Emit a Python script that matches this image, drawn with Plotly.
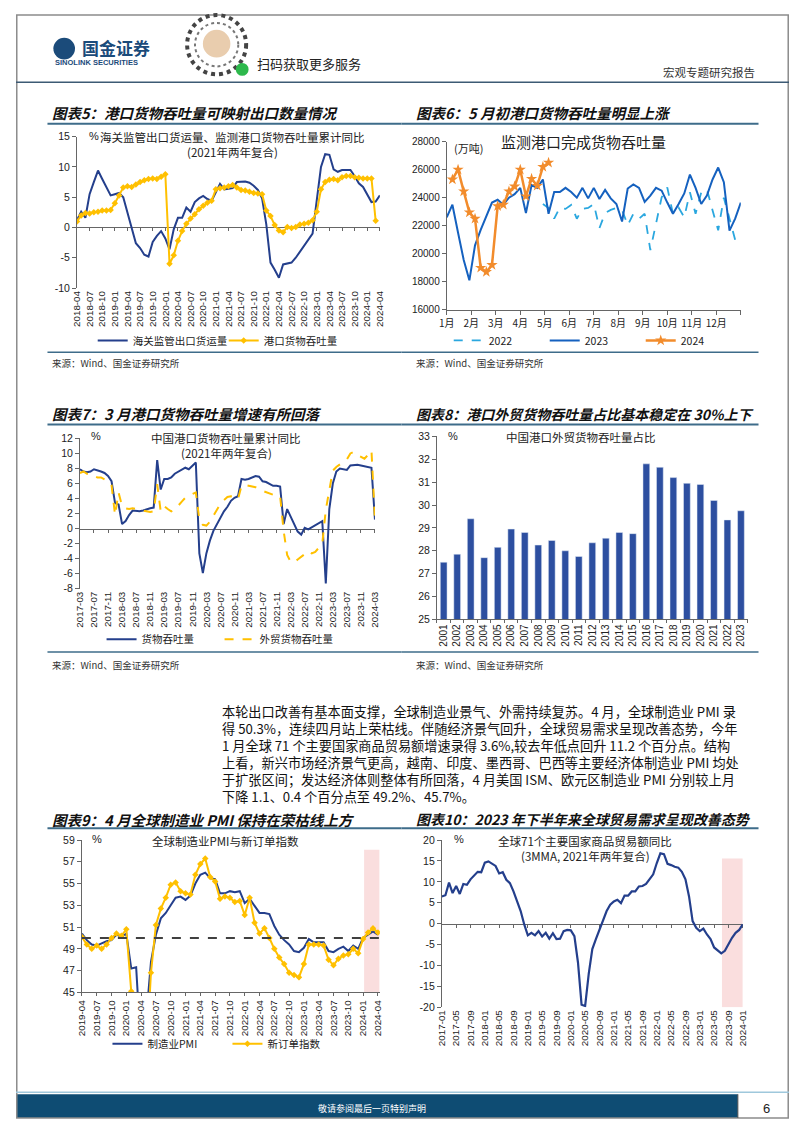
import plotly.graph_objects as go
import pandas as pd

# The page body keeps the browser's default 8px margin, so the figure is sized to fill
# the 802x1133 window exactly inside it and page-pixel positions are mapped accordingly.
PAGE_W, PAGE_H, PAD = 802, 1133, 8
FW, FH = PAGE_W - 2 * PAD, PAGE_H - 2 * PAD
CJK = "Noto Sans CJK SC"
NUM = "Arial, 'Liberation Sans', sans-serif"
NAVY = "#243F8C"
YELLOW = "#FFC000"
AXC = "#666666"
TEAL = "#3E6C8A"


def X(px):
    return (px - PAD) / FW


def Y(py):
    return 1 - (py - PAD) / FH


# ---------------- Chart 5 data ----------------
months5 = pd.period_range("2018-04", "2024-04", freq="M").strftime("%Y-%m").tolist()
customs5 = [1.2, 2.6, 1.6, 5.5, 7.5, 9.4, 8.0, 6.6, 5.3, 5.5,
            5.7, 5.0, 2.5, 0.2, -2.6, -3.4, -4.5, -4.8, -2.4, -1.4,
            -0.6, -1.8, -3.6, -0.3, 1.6, 1.6, 3.3, 2.6, 4.2, 4.8,
            5.2, 4.7, 4.4, 5.8, 7.2, 6.3, 6.4, 6.5, 7.5, 7.5,
            7.6, 7.4, 6.9, 6.2, 4.8, 0.5, -5.8, -7.0, -8.3, -6.1,
            -6.0, -5.8, -5.0, -4.0, -2.9, -2.0, -1.0, 4.5, 10.0, 12.1,
            12.0, 9.6, 9.2, 9.5, 9.5, 9.5, 8.5, 7.3, 6.7, 5.5,
            4.2, 4.3, 5.3]
port5 = [1.0, 2.0, 2.4, 2.3, 2.5, 2.6, 2.8, 2.8, 2.9, 4.0,
         5.3, 6.6, 6.8, 6.7, 7.1, 7.5, 7.8, 8.0, 8.1, 8.0,
         8.4, 8.8, -6.0, -4.6, -2.2, -0.6, 0.6, 1.5, 2.2, 3.0,
         3.6, 4.1, 4.4, 6.3, 6.5, 6.6, 6.8, 7.0, 6.6, 6.2,
         6.1, 5.9, 5.7, 5.6, 5.5, 2.8, 1.9, 0.4, -0.5, -0.8,
         0.1, -0.1, 0.1, 0.5, 0.6, 0.8, 1.2, 2.6, 6.3, 7.5,
         7.9, 8.0, 7.8, 8.3, 8.5, 8.5, 8.3, 8.2, 8.1, 8.1,
         8.1, 1.1]

# ---------------- Chart 6 data (weekly) ----------------
month_labels6 = [f"{m}月" for m in range(1, 13)]
weeks_per_year = 52
start_week_2022 = 17
start_week_2023 = 0
start_week_2024 = 1
v2022 = [23550, 23270, 22500, 23300, 23200, 23480, 22500, 23200, 23270, 23550,
         21830, 22900, 23130, 23270, 23130, 22030, 22850, 22500, 22850, 20260,
         22140, 24020, 24730, 22850, 23300, 22600, 24380, 22850, 24380, 24600,
         23100, 21670, 24000, 22400, 21000]
v2023 = [22600, 23500, 21500, 19550, 18100, 20600, 21700, 22700, 23650, 23850,
         23500, 24000, 24250, 24700, 22900, 24900, 24700, 25300, 22850, 24400,
         24400, 24700, 24400, 24000, 24700, 23950, 24700, 23900, 24550, 23950,
         23550, 22300, 24650, 24950, 24700, 23700, 24150, 24700, 24500, 23650,
         22850, 23550, 24300, 25650, 24700, 23550, 24150, 25300, 26150, 25100,
         21650, 22500, 23650]
v2024 = [25300, 26000, 24450, 22950, 22500, 19000, 18700, 19200, 23400, 23500,
         24450, 24800, 26000, 24100, 25350, 24850, 26200, 26500]

# ---------------- Chart 7 data ----------------
months7 = pd.period_range("2017-03", "2024-03", freq="M").strftime("%Y-%m").tolist()
cargo7 = [7.9, 7.6, 7.5, 7.6, 7.9, 7.8, 7.6, 7.4, 7.0, 6.3,
          3.4, 3.2, 0.6, 1.0, 1.8, 2.4, 2.3, 2.3, 2.4, 2.6,
          2.7, 2.8, 9.1, 5.2, 6.6, 6.6, 6.8, 7.3, 7.6, 7.9,
          8.1, 7.9, 8.3, 8.8, -3.3, -5.9, -3.3, -1.6, -0.3, 0.6,
          1.4, 2.3, 2.9, 3.7, 4.1, 4.3, 6.6, 6.5, 6.6, 6.8,
          7.0, 6.9, 6.3, 6.2, 5.9, 5.7, 5.7, 5.6, 0.6, 2.6,
          1.6, 0.5, -0.4, -0.8, 0.1, -0.1, 0.2, 0.5, 0.8, 1.0,
          -7.3, 2.6, 6.0, 7.6, 8.0, 7.9, 7.8, 8.4, 8.5, 8.5,
          8.4, 8.3, 8.2, 8.1, 1.2]
foreign7 = [7.4, 7.6, 7.3, 7.3, 7.0, 6.8, 6.8, 6.6, 6.3, 5.8,
            1.8, 4.8, 3.0, 2.7, 2.6, 2.7, 2.6, 2.5, 2.4, 2.3,
            2.2, 2.3, 5.9, 2.3, 3.0, 2.6, 2.3, 2.5, 3.1, 3.6,
            4.1, 4.4, 4.6, 4.8, 1.2, 0.5, 0.4, 0.9, 1.7, 2.6,
            3.3, 3.8, 4.2, 4.3, 4.2, 3.9, 5.7, 5.8, 5.7, 5.7,
            5.5, 5.2, 5.0, 4.8, 4.6, 4.5, 4.4, 4.3, -0.3, -3.5,
            -4.4, -4.5, -4.1, -3.8, -3.4, -3.0, -3.3, -3.1, -2.6, -2.0,
            2.5, 5.0, 7.7, 8.2, 8.5, 8.8, 9.2, 10.0, 10.2, 9.8,
            9.5, 9.3, 9.8, 10.4, 1.2]

# ---------------- Chart 8 data ----------------
years8 = [str(y) for y in range(2001, 2024)]
share8 = [27.5, 27.85, 29.4, 27.7, 28.15, 28.95, 28.8, 28.25, 28.45, 28.0,
          27.75, 28.35, 28.55, 28.8, 28.75, 31.8, 31.65, 31.2, 30.95, 30.9,
          30.2, 29.35, 29.75]

# ---------------- Chart 9 data ----------------
months9 = pd.period_range("2019-04", "2024-04", freq="M").strftime("%Y-%m").tolist()
pmi9 = [50.4, 49.8, 49.4, 49.3, 49.5, 49.7, 49.8, 50.3, 50.1,
        50.4, 47.2, 47.3, 39.6, 42.4, 47.8, 50.3, 51.8, 52.3, 53.0, 53.7, 53.8,
        53.5, 53.9, 55.0, 55.8, 56.0, 55.5, 55.4, 54.1, 54.1, 54.3, 54.2, 54.3,
        53.2, 53.6, 53.0, 52.3, 52.3, 52.2, 51.1, 50.3, 49.8, 49.4, 48.8, 48.7,
        49.1, 49.9, 49.6, 49.6, 49.6, 48.8, 48.7, 49.0, 49.2, 48.8, 49.3, 49.0,
        50.0, 50.3, 50.6, 50.3]
neworders9 = [50.1, 49.4, 49.0, 49.3, 49.0, 49.4, 50.0, 50.4, 50.2,
              50.8, 45.1, 42.0, 34.0, 38.5, 46.8, 51.2, 52.7, 53.7, 54.9, 55.1, 54.3,
              54.1, 54.0, 55.8, 56.8, 57.3, 55.6, 55.2, 53.6, 53.8, 53.7, 53.3, 53.4,
              52.1, 53.7, 51.4, 50.4, 50.9, 50.0, 49.0, 48.2, 47.6, 46.8, 46.6, 46.4,
              47.6, 49.4, 49.4, 49.4, 49.3, 48.0, 47.5, 48.1, 48.4, 48.5, 49.0, 48.6,
              49.9, 50.5, 50.9, 50.5]
boom_line9 = 50
shade9 = ("2024-01", "2024-04")
shade_top9 = 58.1

# ---------------- Chart 10 data ----------------
months10 = pd.period_range("2017-01", "2024-01", freq="M").strftime("%Y-%m").tolist()
trade10 = [6.5, 6.8, 9.8, 7.3, 9.0, 7.1, 9.5, 9.3, 10.6, 11.5,
           12.4, 12.3, 14.6, 14.9, 14.4, 13.8, 12.0, 12.3, 10.5, 9.7,
           7.7, 5.5, 3.0, -0.2, -2.8, -2.2, -2.8, -1.8, -3.1, -2.2,
           -3.6, -2.3, -3.7, -3.6, -1.8, -1.5, -1.6, -3.0, -9.3, -19.4,
           -19.7, -12.0, -6.1, -3.7, -1.4, 1.0, 3.0, 4.5, 5.3, 5.7,
           4.9, 6.7, 6.7, 7.7, 7.7, 8.9, 9.0, 9.5, 10.6, 11.8,
           14.5, 16.8, 16.6, 14.3, 14.0, 13.6, 13.4, 12.4, 10.6, 6.5,
           0.6, -1.0, -1.8, -1.2, -2.6, -3.7, -5.7, -6.5, -7.1, -6.5,
           -4.9, -3.4, -2.2, -1.5, -0.2]
shade10 = ("2023-07", "2024-01")
shade_top10 = 15.6

# =====================================================
fig = go.Figure()

idx5 = list(range(len(months5)))
idx7 = list(range(len(months7)))
idx9 = list(range(len(months9)))
idx10 = list(range(len(months10)))

# chart 5
fig.add_trace(go.Scatter(x=idx5, y=customs5, mode="lines", name="海关监管出口货运量",
                         line=dict(color=NAVY, width=2), xaxis="x", yaxis="y", legend="legend"))
fig.add_trace(go.Scatter(x=idx5[:len(port5)], y=port5, mode="lines+markers", name="港口货物吞吐量",
                         line=dict(color=YELLOW, width=2), marker=dict(symbol="diamond", size=5, color=YELLOW),
                         xaxis="x", yaxis="y", legend="legend"))
fig.add_trace(go.Scatter(x=idx5, y=customs5, mode="lines", line=dict(width=0), opacity=0,
                         showlegend=False, hoverinfo="skip", xaxis="x7", yaxis="y"))

# chart 6
w22 = list(range(start_week_2022, start_week_2022 + len(v2022)))
w23 = list(range(start_week_2023, start_week_2023 + len(v2023)))
w24 = list(range(start_week_2024, start_week_2024 + len(v2024)))
fig.add_trace(go.Scatter(x=w22, y=v2022, mode="lines", name="2022",
                         line=dict(color="#2AA7DF", width=1.8, dash="dash"), xaxis="x2", yaxis="y2", legend="legend2"))
fig.add_trace(go.Scatter(x=w23, y=v2023, mode="lines", name="2023",
                         line=dict(color="#1561BF", width=2), xaxis="x2", yaxis="y2", legend="legend2"))
fig.add_trace(go.Scatter(x=w24, y=v2024, mode="lines+markers", name="2024",
                         line=dict(color="#F28C2C", width=2.5),
                         marker=dict(symbol="star", size=8.5, color="#F28C2C"),
                         xaxis="x2", yaxis="y2", legend="legend2"))

# chart 7
fig.add_trace(go.Scatter(x=idx7, y=cargo7, mode="lines", name="货物吞吐量",
                         line=dict(color=NAVY, width=2), xaxis="x3", yaxis="y3", legend="legend3"))
fig.add_trace(go.Scatter(x=idx7, y=foreign7, mode="lines", name="外贸货物吞吐量",
                         line=dict(color=YELLOW, width=2, dash="dash"), xaxis="x3", yaxis="y3", legend="legend3"))
fig.add_trace(go.Scatter(x=idx7, y=cargo7, mode="lines", line=dict(width=0), opacity=0,
                         showlegend=False, hoverinfo="skip", xaxis="x8", yaxis="y3"))

# chart 8
fig.add_trace(go.Bar(x=years8, y=share8, marker=dict(color="#2D4FA0"), showlegend=False,
                     xaxis="x4", yaxis="y4"))

# chart 9
fig.add_trace(go.Scatter(x=idx9, y=pmi9, mode="lines", name="制造业PMI",
                         line=dict(color=NAVY, width=2), xaxis="x5", yaxis="y5", legend="legend4"))
fig.add_trace(go.Scatter(x=idx9, y=neworders9, mode="lines+markers", name="新订单指数",
                         line=dict(color=YELLOW, width=2), marker=dict(symbol="diamond", size=5, color=YELLOW),
                         xaxis="x5", yaxis="y5", legend="legend4"))

# chart 10
fig.add_trace(go.Scatter(x=idx10, y=trade10, mode="lines", line=dict(color=NAVY, width=2.2),
                         showlegend=False, xaxis="x6", yaxis="y6"))
fig.add_trace(go.Scatter(x=idx10, y=trade10, mode="lines", line=dict(width=0), opacity=0,
                         showlegend=False, hoverinfo="skip", xaxis="x9", yaxis="y6"))


# ---------------- axes ----------------
def yax(dom, rng, dtick, anchor, fmt=lambda v: str(v), size=10.5):
    vals = []
    v = rng[0]
    while v <= rng[1] + 1e-9:
        vals.append(v)
        v += dtick
    return dict(domain=dom, range=rng, anchor=anchor, tickmode="array", tickvals=vals,
                ticktext=[fmt(v) for v in vals],
                showline=True, linecolor=AXC, linewidth=1, ticks="outside", ticklen=4, tickcolor=AXC,
                showgrid=False, zeroline=False, tickfont=dict(family=NUM, size=size, color="#222"),
                fixedrange=True)


def xlab(dom, n, step, labels, anchor, rng=None, show_line=False):
    tv = list(range(0, n, step))
    return dict(domain=dom, range=rng if rng else [0, n - 1], tickmode="array", tickvals=tv,
                ticktext=[labels[i] for i in tv], tickangle=-90, showline=show_line, linecolor=AXC,
                ticks="outside" if show_line else "", ticklen=3, tickcolor=AXC,
                showgrid=False, zeroline=False, anchor=anchor,
                tickfont=dict(family=NUM, size=9.8, color="#222"), fixedrange=True)


def zero_axis(base, yd, yr, n, step, rng=None):
    pos = yd[0] + (0 - yr[0]) / (yr[1] - yr[0]) * (yd[1] - yd[0])
    return dict(overlaying=base, anchor="free", position=pos, range=rng if rng else [0, n - 1],
                tickmode="array", tickvals=list(range(0, n, step)), showticklabels=False,
                showline=True, linecolor=AXC, linewidth=1, ticks="outside", ticklen=3, tickcolor=AXC,
                showgrid=False, zeroline=False, layer="below traces", fixedrange=True)


y5d, y5r = [Y(285), Y(132)], [-10, 15]
y6d = [Y(307), Y(137)]
y7d, y7r = [Y(589), Y(437)], [-8, 12]
y8d = [Y(620), Y(435)]
y9d = [Y(997), Y(843)]
y10d, y10r = [Y(1012), Y(843)], [-20, 20]

layout = dict(
    width=FW, height=FH, margin=dict(l=0, r=0, t=0, b=0),
    paper_bgcolor="white", plot_bgcolor="rgba(0,0,0,0)",
    font=dict(family=CJK, color="#222"),
    xaxis=xlab([X(70), X(378)], len(months5), 3, months5, "y"),
    yaxis=yax(y5d, y5r, 5, "x"),
    xaxis7=zero_axis("x", y5d, y5r, len(months5), 3),
    xaxis2=dict(domain=[X(446), X(745)], range=[0, weeks_per_year], anchor="y2", tickmode="array",
                tickvals=[k * weeks_per_year / 12 for k in range(13)], ticktext=month_labels6 + [""],
                showline=True, linecolor=AXC, ticks="outside", ticklen=4, tickcolor=AXC, showgrid=False,
                zeroline=False, tickfont=dict(family=CJK, size=10, color="#222"), fixedrange=True),
    yaxis2=yax(y6d, [16000, 28000], 2000, "x2", lambda v: f"{int(v)}", size=10),
    xaxis3=xlab([X(73), X(373)], len(months7), 4, months7, "y3"),
    yaxis3=yax(y7d, y7r, 2, "x3"),
    xaxis8=zero_axis("x3", y7d, y7r, len(months7), 4),
    xaxis4=dict(domain=[X(436), X(752)], anchor="y4", type="category", tickangle=-90, showline=True,
                linecolor=AXC, ticks="outside", ticklen=3, tickcolor=AXC, tickson="boundaries",
                showgrid=False, tickfont=dict(family=NUM, size=10, color="#222"), fixedrange=True),
    yaxis4=yax(y8d, [25, 33], 1, "x4"),
    xaxis5=xlab([X(75), X(378)], len(months9), 3, months9, "y5", rng=[0, len(months9) - 0.6], show_line=True),
    yaxis5=yax(y9d, [45, 59], 2, "x5"),
    xaxis6=xlab([X(441), X(747)], len(months10), 4, months10, "y6"),
    yaxis6=yax(y10d, y10r, 5, "x6"),
    xaxis9=zero_axis("x6", y10d, y10r, len(months10), 4),
    bargap=0.5,
    showlegend=True,
)


def leg(x, y, entry):
    return dict(orientation="h", x=X(x), y=Y(y), xanchor="left", yanchor="middle",
                bgcolor="rgba(0,0,0,0)", itemwidth=30, entrywidth=entry, entrywidthmode="pixels",
                font=dict(family=CJK, size=10.5, color="#222"), traceorder="normal", itemclick=False)


layout["legend"] = leg(86, 338, 86)
layout["legend2"] = leg(448, 338, 51)
layout["legend3"] = leg(95, 640, 73)
layout["legend4"] = leg(101, 1049, 75)

fig.update_layout(**layout)

# ---------------- annotations ----------------
ann = []


def txt(x, y, s, size=12, color="#222", family=CJK, xa="left", ya="middle"):
    ann.append(dict(x=X(x), y=Y(y), xref="paper", yref="paper", text=s, showarrow=False, align=xa,
                    font=dict(family=family, size=size, color=color), xanchor=xa, yanchor=ya))


# header
txt(73, 42, "<b>国金证券</b>", 17, "#1B4B7A")
txt(46, 57, "<b>SINOLINK SECURITIES</b>", 7.5, "#1B4B7A", NUM)
txt(251, 58, "扫码获取更多服务", 13, "#222")
txt(761, 67, "宏观专题研究报告", 11.5, "#333", xa="right")

# chart titles
txt(43, 108, "<b><i>图表5：港口货物吞吐量可映射出口数量情况</i></b>", 14.5, "#111")
txt(413, 108, "<b><i>图表6：5 月初港口货物吞吐量明显上涨</i></b>", 14.5, "#111")
txt(43, 412, "<b><i>图表7：3 月港口货物吞吐量增速有所回落</i></b>", 14.5, "#111")
txt(413, 412, "<b><i>图表8：港口外贸货物吞吐量占比基本稳定在 30%上下</i></b>", 14, "#111")
txt(43, 822, "<b><i>图表9：4 月全球制造业 PMI 保持在荣枯线上方</i></b>", 14.5, "#111")
txt(413, 822, "<b><i>图表10：2023 年下半年来全球贸易需求呈现改善态势</i></b>", 14, "#111")

# in-chart titles
txt(228, 132, "海关监管出口货运量、监测港口货物吞吐量累计同比", 11.5, xa="center")
txt(228, 148, "(2021年两年复合)", 11.5, xa="center")
txt(80, 131, "%", 11, family=NUM)
txt(585, 137, "监测港口完成货物吞吐量", 15, xa="center")
txt(451, 143, "(万吨)", 11)
txt(222, 437, "中国港口货物吞吐量累计同比", 11.5, xa="center")
txt(222, 452, "(2021年两年复合)", 11.5, xa="center")
txt(82, 435, "%", 11, family=NUM)
txt(583, 436, "中国港口外贸货物吞吐量占比", 11.5, xa="center")
txt(445, 435, "%", 11, family=NUM)
txt(221, 844, "全球制造业PMI与新订单指数", 11.5, xa="center")
txt(83, 842, "%", 11, family=NUM)
txt(587, 844, "全球71个主要国家商品贸易额同比", 11.5, xa="center")
txt(587, 859, "(3MMA, 2021年两年复合)", 11.5, xa="center")
txt(451, 842, "%", 11, family=NUM)

# sources
src = "来源：Wind、国金证券研究所"
txt(43, 361, src, 9.5, "#333")
txt(413, 361, src, 9.5, "#333")
txt(43, 666, src, 9.5, "#333")
txt(413, 666, src, 9.5, "#333")

# paragraph
para = [
    "本轮出口改善有基本面支撑，全球制造业景气、外需持续复苏。4 月，全球制造业 PMI 录",
    "得 50.3%，连续四月站上荣枯线。伴随经济景气回升，全球贸易需求呈现改善态势，今年",
    "1 月全球 71 个主要国家商品贸易额增速录得 3.6%,较去年低点回升 11.2 个百分点。结构",
    "上看，新兴市场经济景气更高，越南、印度、墨西哥、巴西等主要经济体制造业 PMI 均处",
    "于扩张区间；发达经济体则整体有所回落，4 月美国 ISM、欧元区制造业 PMI 分别较上月",
    "下降 1.1、0.4 个百分点至 49.2%、45.7%。",
]
for k, line in enumerate(para):
    txt(215, 713 + k * 17.2, line, 13.2, "#111")

# footer
txt(370, 1114, "敬请参阅最后一页特别声明", 9, "white", xa="center")
txt(771, 1114, "6", 13, "#222", NUM, xa="center")

fig.update_layout(annotations=ann)

# ---------------- shapes ----------------
shp = []


def pline(x0, y0, x1, y1, color, width=1, dash="solid"):
    shp.append(dict(type="line", xref="paper", yref="paper", x0=X(x0), y0=Y(y0), x1=X(x1), y1=Y(y1),
                    line=dict(color=color, width=width, dash=dash)))


def prect(x0, y0, x1, y1, fill, color=None, width=0):
    shp.append(dict(type="rect", xref="paper", yref="paper", x0=X(x0), y0=Y(y0), x1=X(x1), y1=Y(y1),
                    fillcolor=fill, line=dict(color=color or fill, width=width), layer="below"))


def pcircle(cx, cy, r, fill, color=None, width=0, dash="solid"):
    shp.append(dict(type="circle", xref="paper", yref="paper", x0=X(cx - r), y0=Y(cy + r), x1=X(cx + r),
                    y1=Y(cy - r), fillcolor=fill, line=dict(color=color or fill, width=width, dash=dash)))


# page frame (at the figure edge)
shp.append(dict(type="rect", xref="paper", yref="paper", x0=0.001, y0=0.001, x1=0.999, y1=0.999,
                line=dict(color="#8C8C8C", width=1.5), fillcolor="rgba(0,0,0,0)"))
# header
pcircle(57, 43, 11, "#1B4B7A")
prect(60, 31, 66, 38, "white")
pcircle(212, 39, 30, "rgba(0,0,0,0)", "#444", 4, "dot")
pcircle(212, 39, 22, "rgba(0,0,0,0)", "#777", 2, "dot")
pcircle(212, 38, 14, "#E9CDAE")
pcircle(238, 64, 6.5, "#2DB84C")
pline(PAD, 77, PAGE_W - PAD, 77, "#3C5A74", 1.5)

# title rules and source rules
for (a, b) in [(40, 400), (400, 763)]:
    pline(a, 119, b, 119, TEAL, 2)
    pline(a, 350, b, 350, TEAL, 1.5)
    pline(a, 423, b, 423, TEAL, 2)
    pline(a, 653, b, 653, TEAL, 1.5)
    pline(a, 831, b, 831, TEAL, 2)

# footer
pline(PAD, 1098, PAGE_W - PAD, 1098, "#9FC8DC", 1.5)
prect(PAD, 1100, 742, 1124, "#0E4C73")
pline(742, 1100, 742, 1124, "#555", 1)

# chart 9 boom line and shading
shp.append(dict(type="line", xref="x5 domain", yref="y5", x0=0, x1=1, y0=boom_line9, y1=boom_line9,
                line=dict(color="#404040", width=2, dash="dash")))
shp.append(dict(type="rect", xref="x5", yref="y5", x0=months9.index(shade9[0]) + 0.2,
                x1=months9.index(shade9[1]) + 0.3, y0=45, y1=shade_top9,
                fillcolor="rgba(246,200,200,0.6)", line=dict(width=0), layer="below"))
shp.append(dict(type="rect", xref="x6", yref="y6", x0=months10.index(shade10[0]) + 0.2,
                x1=months10.index(shade10[1]), y0=-20, y1=shade_top10,
                fillcolor="rgba(246,200,200,0.6)", line=dict(width=0), layer="below"))

fig.update_layout(shapes=shp)

fig.write_html("out.html", config={"displayModeBar": False})
